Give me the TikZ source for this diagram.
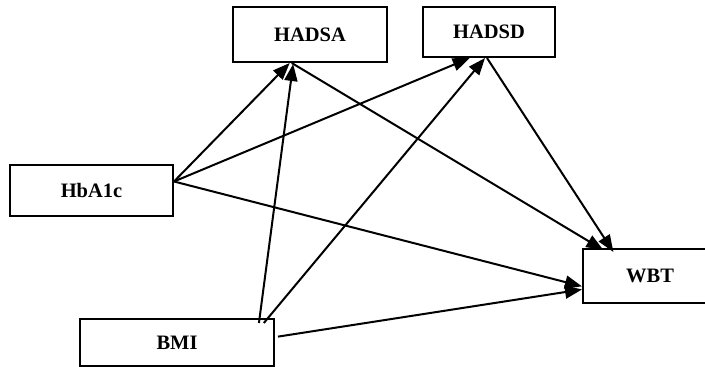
\documentclass[tikz,border=0pt]{standalone}
\usepackage{fontspec}
\setmainfont{Liberation Serif}
\usetikzlibrary{arrows.meta,calc}
\begin{document}
\begin{tikzpicture}[x=1pt,y=-1pt,
  box/.style={draw,line width=2pt,inner sep=0pt,font=\bfseries\fontsize{20.5}{23}\selectfont,fill=white},
  conn/.style={line width=2pt,-{Triangle[length=17pt,width=13pt]}}]
\useasboundingbox (0,0) rectangle (705,367);
\node[box,minimum width=154pt,minimum height=55pt] (hadsa) at (310,34.5) {HADSA};
\node[box,minimum width=132pt,minimum height=50pt] (hadsd) at (489,32) {HADSD};
\node[box,minimum width=163pt,minimum height=51pt] (hba) at (91.5,190.5) {HbA1c};
\node[box,minimum width=194pt,minimum height=47pt] (bmi) at (177,342.5) {BMI};
\node[box,minimum width=134pt,minimum height=54pt] (wbt) at (650,276) {WBT};
% anchor points
\coordinate (hbaS) at ($(hba.north east)!0.33!(hba.south east)$);
\coordinate (bmiA) at ($(bmi.north west)!0.918!(bmi.north east)+(0,5)$);
\coordinate (bmiB) at ($(bmi.north west)!0.943!(bmi.north east)+(0,5)$);
\coordinate (bmiC) at ($(bmi.north east)!0.38!(bmi.south east)+(3,0)$);
% connectors
\draw[conn] (hbaS) -- ($(hadsa.south west)!0.37!(hadsa.south east)$);
\draw[conn] (bmiA) -- ($(hadsa.south west)!0.392!(hadsa.south east)+(0,1)$);
\draw[conn] ($(hadsa.south west)!0.383!(hadsa.south east)$) -- ($(wbt.north west)!0.157!(wbt.north east)+(0,2)$);
\draw[conn] (hbaS) -- ($(hadsd.south west)!0.356!(hadsd.south east)$);
\draw[conn] (bmiB) -- ($(hadsd.south west)!0.47!(hadsd.south east)$);
\draw[conn] ($(hadsd.south west)!0.485!(hadsd.south east)$) -- ($(wbt.north west)!0.231!(wbt.north east)+(0,4)$);
\draw[conn] (hbaS) -- ($(wbt.north west)!0.685!(wbt.south west)$);
\draw[conn] (bmiC) -- ($(wbt.north west)!0.74!(wbt.south west)$);
\end{tikzpicture}
\end{document}
